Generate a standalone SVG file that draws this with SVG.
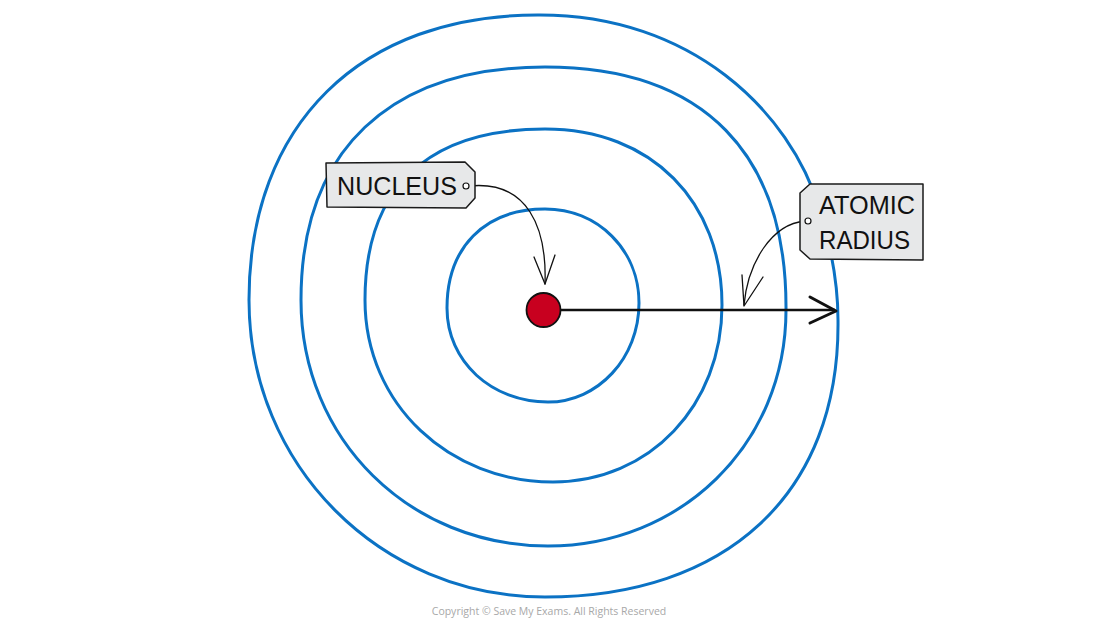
<svg xmlns="http://www.w3.org/2000/svg" width="1100" height="621" viewBox="0 0 1100 621">
<style>
.ring{fill:none;stroke:#0b72c4;stroke-width:3}
.tag{fill:#e7e8e9;stroke:#1a1a1a;stroke-width:1.5;stroke-linejoin:round}
.lbl{font-family:"Liberation Sans",Arial,sans-serif;font-size:26px;fill:#111}
.thin{fill:none;stroke:#111;stroke-width:1.3;stroke-linecap:round;stroke-linejoin:round}
.dot{fill:#fff;stroke:#111;stroke-width:1.2}
</style>
<rect width="1100" height="621" fill="#fff"/>
<g id="rings">
<path class="ring" d="M 639,303 C 639,358 598,402 548,402 C 492,402 447,362 447,308 C 447,248 484,209 545,209 C 598,209 639,250 639,303 Z"/>
<path class="ring" d="M 722,305 C 722,405 650,482 553,482 C 450,482 365,405 365,300 C 365,190 425,129 545,129 C 652,129 722,202 722,305 Z"/>
<path class="ring" d="M 786,310 C 786,445 680,546 548,546 C 410,546 301,440 301,300 C 301,150 390,67 545,67 C 705,67 787,155 786,310 Z"/>
<path class="ring" d="M 838,320 C 840,495 725,597 545,597 C 380,597 249,465 249,300 C 249,125 360,14 540,15 C 690,15 790,110 820,210 C 832,250 838,285 838,320 Z"/>
</g>
<g id="connectors">
<line x1="561" y1="310" x2="835" y2="310" stroke="#111" stroke-width="2.5"/>
<path d="M 810,297 L 836,311 L 810,323" fill="none" stroke="#111" stroke-width="3" stroke-linecap="round" stroke-linejoin="round"/>
<path class="thin" d="M 469,186 C 528,180 547,228 545,284"/>
<path class="thin" d="M 534,257 L 545,284 L 555,255"/>
<path class="thin" d="M 805,221 C 772,224 748,262 744,305"/>
<path class="thin" d="M 742,275 L 744,306 L 763,277"/>
</g>
<g id="nucleus">
<circle cx="543.5" cy="310" r="17" fill="#c8001f" stroke="#111" stroke-width="1.8"/>
</g>
<g id="label-nucleus">
<path class="tag" d="M 326,163 L 465,162 L 475,172 L 475,198 L 466,208 L 327,207 Z"/>
<text class="lbl" x="337" y="195" textLength="120" lengthAdjust="spacingAndGlyphs">NUCLEUS</text>
<circle class="dot" cx="466" cy="186" r="3"/>
</g>
<g id="label-atomic-radius">
<path class="tag" d="M 810,184 L 923,184 L 923,260 L 810,259 L 800,250 L 800,193 Z"/>
<text class="lbl" x="819" y="214" textLength="96" lengthAdjust="spacingAndGlyphs">ATOMIC</text>
<text class="lbl" x="819" y="249" textLength="91" lengthAdjust="spacingAndGlyphs">RADIUS</text>
<circle class="dot" cx="808" cy="221" r="3"/>
</g>
<text x="549" y="615" text-anchor="middle" font-family="'Open Sans','Liberation Sans',sans-serif" font-size="10.5" fill="#a8a8a8">Copyright © Save My Exams. All Rights Reserved</text>
</svg>
